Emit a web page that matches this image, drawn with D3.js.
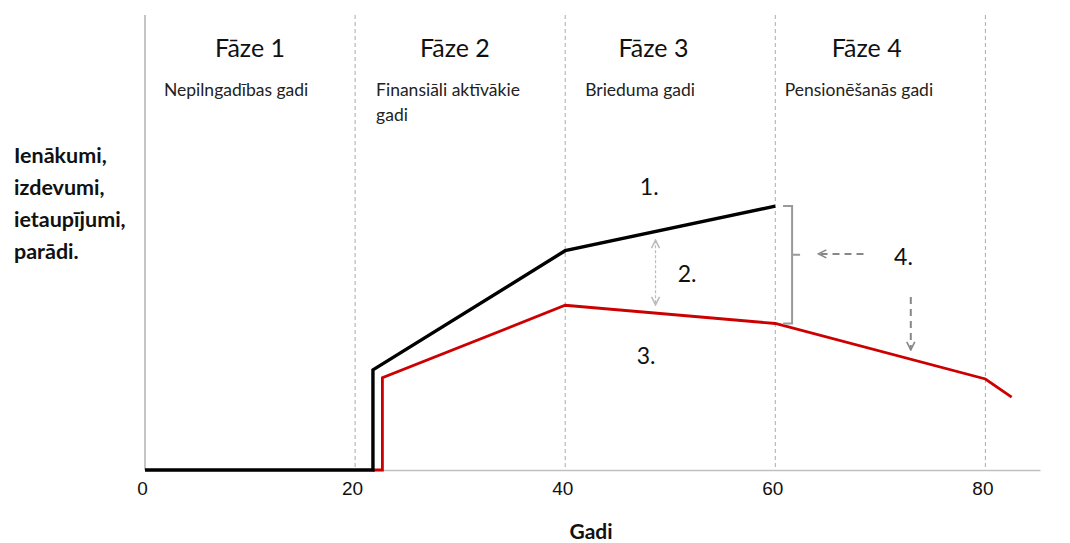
<!DOCTYPE html>
<html><head><meta charset="utf-8">
<script src="https://cdn.jsdelivr.net/npm/d3@7"></script>
<style>
body{margin:0;background:#fff;}
text{font-family:"Lato","Noto Sans",sans-serif;}
</style></head>
<body><svg id="c" width="1070" height="543"></svg>
<script>
// ---- data ----
const xTicks = [0, 20, 40, 60, 80];
const phaseLines = [20, 40, 60, 80];
const phaseTitles = ["Fāze 1", "Fāze 2", "Fāze 3", "Fāze 4"];
const phaseTitleAges = [10, 29.5, 48.4, 68.7];
const phaseSubtitles = [["Nepilngadības gadi"], ["Finansiāli aktīvākie", "gadi"], ["Brieduma gadi"], ["Pensionēšanās gadi"]];
const phaseSubtitleAges = [1.8, 22, 41.9, 60.9];
const incomeAges = [0, 21.7, 21.7, 40, 60];
const incomeValues = [0, 0, 22, 48.2, 58];
const expenseAges = [21.7, 22.6, 22.6, 40, 60, 80, 82.5];
const expenseValues = [0, 0, 20.3, 36.2, 32.2, 20, 16];
const noteLabels = ["1.", "2.", "3.", "4."];
const noteAges = [48, 51.6, 47.7, 72.2];
const noteValues = [60.4, 41.3, 23.3, 45.1];
const yLabelLines = ["Ienākumi,", "izdevumi,", "ietaupījumi,", "parādi."];
const xTitle = "Gadi";

// ---- layout ----
const svg = d3.select("#c");
const x = d3.scaleLinear().domain([0, 85.2]).range([145, 1040]);
const y = d3.scaleLinear().domain([0, 100]).range([470, 15]);

// y axis line (solid gray)
svg.append("line").attr("x1", x(0)).attr("x2", x(0)).attr("y1", y(100)).attr("y2", y(0))
  .attr("stroke", "#b0b0b0").attr("stroke-width", 1.5);

// phase dashed lines
svg.selectAll(".pl").data(phaseLines).join("line")
  .attr("x1", d => x(d)).attr("x2", d => x(d)).attr("y1", y(100)).attr("y2", y(0))
  .attr("stroke", "#aaa").attr("stroke-width", 1).attr("stroke-dasharray", "4,3");

// x axis
const xAxis = d3.axisBottom(x).tickValues(xTicks).tickSize(0).tickPadding(12);
const gx = svg.append("g").attr("transform", `translate(0,${y(0)})`).call(xAxis);
gx.attr("font-family", null);
gx.select(".domain").attr("stroke", "#c0c0c0").attr("stroke-width", 1.5);
gx.selectAll("text").attr("font-size", 19).attr("fill", "#111").attr("dx", -3)
  .style("font-family", "'Liberation Sans',Arial,sans-serif");

// phase titles
svg.selectAll(".pt").data(phaseTitles).join("text")
  .attr("x", (d, i) => x(phaseTitleAges[i])).attr("y", 57)
  .attr("text-anchor", "middle").attr("font-size", 25).attr("fill", "#111").text(d => d);

// phase subtitles
phaseSubtitles.forEach((lines, i) => {
  lines.forEach((t, j) => {
    svg.append("text").attr("x", x(phaseSubtitleAges[i])).attr("y", 96 + j * 25)
      .attr("font-size", 17.5).attr("fill", "#222").text(t);
  });
});

// lines
const line = d3.line().x(d => x(d[0])).y(d => y(d[1]));
svg.append("path").datum(expenseAges.map((a, i) => [a, expenseValues[i]]))
  .attr("d", line).attr("fill", "none").attr("stroke", "#cc0000").attr("stroke-width", 2.8)
  .attr("stroke-linejoin", "miter");
svg.append("path").datum(incomeAges.map((a, i) => [a, incomeValues[i]]))
  .attr("d", line).attr("fill", "none").attr("stroke", "#000").attr("stroke-width", 3.4)
  .attr("stroke-linejoin", "miter");

// arrow markers
const defs = svg.append("defs");
function marker(id, color) {
  defs.append("marker").attr("id", id).attr("viewBox", "0 0 10 10").attr("refX", 9).attr("refY", 5)
    .attr("markerWidth", 10).attr("markerHeight", 10).attr("markerUnits", "userSpaceOnUse")
    .attr("orient", "auto-start-reverse")
    .append("path").attr("d", "M1,1 L9,5 L1,9").attr("fill", "none").attr("stroke", color).attr("stroke-width", 1.6);
}
marker("al", "#bbb");
marker("ad", "#888");

// double arrow (2.)
const ax2 = 48.6;
svg.append("line").attr("x1", x(ax2)).attr("x2", x(ax2))
  .attr("y1", y(50.5)).attr("y2", y(36.3))
  .attr("stroke", "#bbb").attr("stroke-width", 1.2).attr("stroke-dasharray", "3,2")
  .attr("marker-start", "url(#al)").attr("marker-end", "url(#al)");

// bracket
const bx = x(61.6), bTop = y(incomeValues[4]), bBot = y(expenseValues[4]);
svg.append("path")
  .attr("d", `M${bx - 9},${bTop} L${bx},${bTop} L${bx},${bBot} L${bx - 9},${bBot} M${bx},${(bTop + bBot) / 2 - 10} L${bx + 8},${(bTop + bBot) / 2 - 10}`)
  .attr("fill", "none").attr("stroke", "#999").attr("stroke-width", 2);

// arrow from 4. to bracket
svg.append("line").attr("x1", x(68.4)).attr("x2", x(64.1))
  .attr("y1", y(47.5)).attr("y2", y(47.5))
  .attr("stroke", "#888").attr("stroke-width", 2).attr("stroke-dasharray", "7,5")
  .attr("marker-end", "url(#ad)");
// arrow down from 4.
svg.append("line").attr("x1", x(72.9)).attr("x2", x(72.9))
  .attr("y1", y(38.0)).attr("y2", y(26.4))
  .attr("stroke", "#888").attr("stroke-width", 2).attr("stroke-dasharray", "7,5")
  .attr("marker-end", "url(#ad)");

// note labels
svg.selectAll(".nl").data(noteLabels).join("text")
  .attr("x", (d, i) => x(noteAges[i])).attr("y", (d, i) => y(noteValues[i]))
  .attr("text-anchor", "middle").attr("font-size", 23).attr("fill", "#111").text(d => d);

// y label
svg.selectAll(".yl").data(yLabelLines).join("text")
  .attr("x", 14).attr("y", (d, i) => 163 + i * 32)
  .attr("font-size", 21.5).attr("font-weight", "bold").attr("fill", "#111").text(d => d);

// x title
svg.append("text").attr("x", 591).attr("y", 539).attr("text-anchor", "middle")
  .attr("font-size", 21).attr("font-weight", "bold").attr("fill", "#111").text(xTitle);
</script></body></html>
